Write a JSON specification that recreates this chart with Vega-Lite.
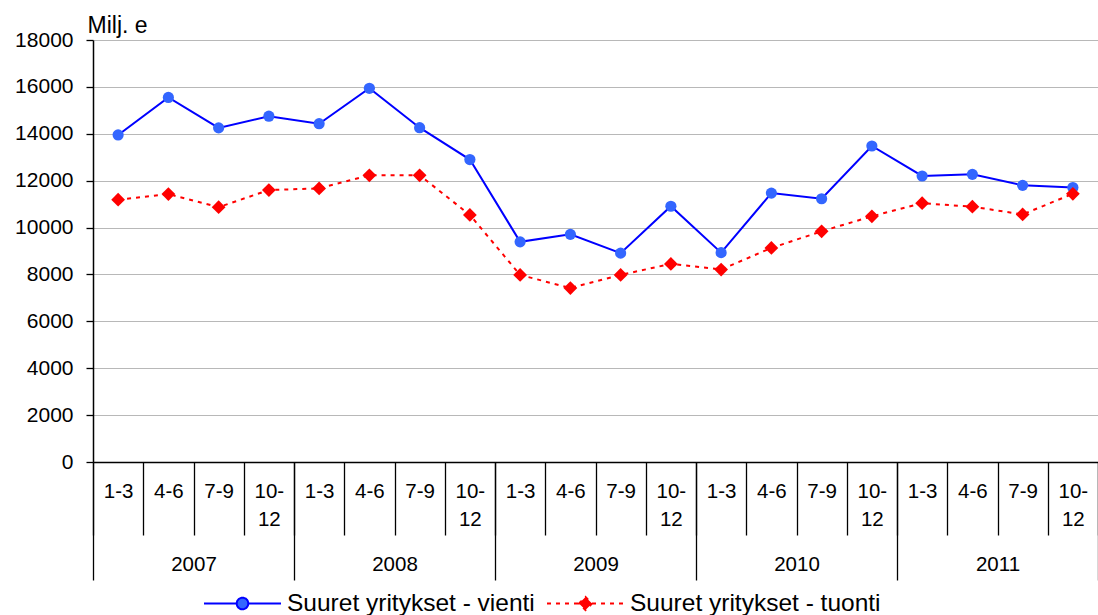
{
  "$schema": "https://vega.github.io/schema/vega-lite/v6.json",
  "width": 1005,
  "height": 422,
  "autosize": {"type": "none"},
  "padding": {"left": 93, "top": 40, "right": 0, "bottom": 153},
  "background": "white",
  "config": {
    "view": {"stroke": null},
    "font": "Liberation Sans",
    "axisY": {
      "grid": true,
      "gridColor": "#b8b8b8",
      "gridWidth": 1,
      "domainColor": "black",
      "domainWidth": 1.5,
      "tickColor": "black",
      "tickWidth": 1.3,
      "tickSize": 7,
      "labelFontSize": 21,
      "labelColor": "black",
      "labelPadding": 13,
      "titleAngle": 0,
      "titleAlign": "left",
      "titleBaseline": "alphabetic",
      "titleX": -6,
      "titleY": -8,
      "titleFontSize": 23,
      "titleFontWeight": "normal",
      "titleColor": "black"
    }
  },
  "data": {
    "values": [
      {"t": "2007 1-3", "year": "2007", "vienti": 13950, "tuonti": 11190},
      {"t": "2007 4-6", "year": "2007", "vienti": 15550, "tuonti": 11430},
      {"t": "2007 7-9", "year": "2007", "vienti": 14250, "tuonti": 10870},
      {"t": "2007 10-12", "year": "2007", "vienti": 14750, "tuonti": 11600},
      {"t": "2008 1-3", "year": "2008", "vienti": 14430, "tuonti": 11670},
      {"t": "2008 4-6", "year": "2008", "vienti": 15940, "tuonti": 12230},
      {"t": "2008 7-9", "year": "2008", "vienti": 14260, "tuonti": 12230},
      {"t": "2008 10-12", "year": "2008", "vienti": 12900, "tuonti": 10540},
      {"t": "2009 1-3", "year": "2009", "vienti": 9390, "tuonti": 7980},
      {"t": "2009 4-6", "year": "2009", "vienti": 9710, "tuonti": 7420},
      {"t": "2009 7-9", "year": "2009", "vienti": 8910, "tuonti": 7980},
      {"t": "2009 10-12", "year": "2009", "vienti": 10910, "tuonti": 8450},
      {"t": "2010 1-3", "year": "2010", "vienti": 8930, "tuonti": 8210},
      {"t": "2010 4-6", "year": "2010", "vienti": 11470, "tuonti": 9130},
      {"t": "2010 7-9", "year": "2010", "vienti": 11230, "tuonti": 9840},
      {"t": "2010 10-12", "year": "2010", "vienti": 13480, "tuonti": 10480},
      {"t": "2011 1-3", "year": "2011", "vienti": 12200, "tuonti": 11040},
      {"t": "2011 4-6", "year": "2011", "vienti": 12270, "tuonti": 10890},
      {"t": "2011 7-9", "year": "2011", "vienti": 11800, "tuonti": 10560},
      {"t": "2011 10-12", "year": "2011", "vienti": 11710, "tuonti": 11440}
    ]
  },
  "layer": [
    {
      "encoding": {
        "x": {
          "field": "t",
          "type": "nominal",
          "sort": null,
          "scale": {"paddingInner": 0, "paddingOuter": 0},
          "axis": {
            "title": null,
            "orient": "bottom",
            "tickBand": "extent",
            "tickSize": 73,
            "tickColor": "black",
            "tickWidth": 1.3,
            "domainColor": "black",
            "domainWidth": 1.5,
            "labelAngle": 0,
            "labelAlign": "center",
            "labelBaseline": "top",
            "labelPadding": -54,
            "labelFontSize": 20.5,
            "labelColor": "black",
            "labelLineHeight": 28,
            "labelOverlap": false,
            "labelFlush": false,
            "labelBound": false,
            "labelExpr": "split(datum.value, ' ')[1] == '10-12' ? ['10-', '12'] : split(datum.value, ' ')[1]"
          }
        }
      },
      "layer": [
        {
          "mark": {"type": "line", "color": "#0000ff", "strokeWidth": 2},
          "encoding": {
            "y": {"field": "vienti", "type": "quantitative", "title": "Milj. e",
                  "scale": {"domain": [0, 18000], "nice": false},
                  "axis": {"format": "d", "values": [0, 2000, 4000, 6000, 8000, 10000, 12000, 14000, 16000, 18000]}}
          }
        },
        {
          "mark": {"type": "point", "shape": "circle", "filled": true, "color": "#3366ff", "size": 125, "opacity": 1},
          "encoding": {
            "y": {"field": "vienti", "type": "quantitative", "title": "Milj. e"}
          }
        },
        {
          "mark": {"type": "line", "color": "#ff0000", "strokeWidth": 2, "strokeDash": [4, 5]},
          "encoding": {
            "y": {"field": "tuonti", "type": "quantitative", "title": "Milj. e"}
          }
        },
        {
          "mark": {"type": "point", "shape": "diamond", "filled": true, "color": "#ff0000", "size": 190, "opacity": 1},
          "encoding": {
            "y": {"field": "tuonti", "type": "quantitative", "title": "Milj. e"}
          }
        }
      ]
    },
    {
      "mark": {"type": "point", "opacity": 0},
      "encoding": {
        "x": {
          "field": "year",
          "type": "nominal",
          "sort": null,
          "scale": {"paddingInner": 0, "paddingOuter": 0},
          "axis": {
            "title": null,
            "orient": "bottom",
            "tickBand": "extent",
            "tickSize": 118,
            "tickColor": "black",
            "tickWidth": 1.3,
            "domain": false,
            "labelAngle": 0,
            "labelAlign": "center",
            "labelBaseline": "top",
            "labelPadding": -26,
            "labelFontSize": 20.5,
            "labelColor": "black",
            "labelOverlap": false,
            "labelFlush": false,
            "labelBound": false
          }
        }
      }
    },
    {
      "data": {"values": [{"s": "Suuret yritykset - vienti"}, {"s": "Suuret yritykset - tuonti"}]},
      "mark": {"type": "point", "filled": true, "opacity": 0, "strokeWidth": 2},
      "encoding": {
        "shape": {
          "field": "s",
          "type": "nominal",
          "scale": {
            "domain": ["Suuret yritykset - vienti", "Suuret yritykset - tuonti"],
            "range": [
              "M-1,0L-0.15,0M0.15,0L1,0M-0.15,0A0.15,0.15,0,1,1,0.15,0A0.15,0.15,0,1,1,-0.15,0Z",
              "M-1,0L1,0M-0.17,0L0,-0.17L0.17,0L0,0.17Z"
            ]
          },
          "legend": {
            "title": null,
            "orient": "none",
            "legendX": 110,
            "legendY": 524,
            "direction": "horizontal",
            "padding": 0,
            "symbolSize": 5929,
            "symbolStrokeWidth": 2,
            "symbolOpacity": 1,
            "labelFontSize": 24.5,
            "labelColor": "black",
            "labelOffset": 5,
            "labelLimit": 0,
            "columnPadding": 8
          }
        },
        "fill": {
          "field": "s",
          "type": "nominal",
          "scale": {"domain": ["Suuret yritykset - vienti", "Suuret yritykset - tuonti"], "range": ["#3366ff", "#ff0000"]}
        },
        "stroke": {
          "field": "s",
          "type": "nominal",
          "scale": {"domain": ["Suuret yritykset - vienti", "Suuret yritykset - tuonti"], "range": ["#0000ff", "#ff0000"]}
        },
        "strokeDash": {
          "field": "s",
          "type": "nominal",
          "scale": {"domain": ["Suuret yritykset - vienti", "Suuret yritykset - tuonti"], "range": [[1, 0], [4, 5]]}
        }
      }
    }
  ],
  "resolve": {"scale": {"x": "independent"}, "axis": {"x": "independent"}}
}
